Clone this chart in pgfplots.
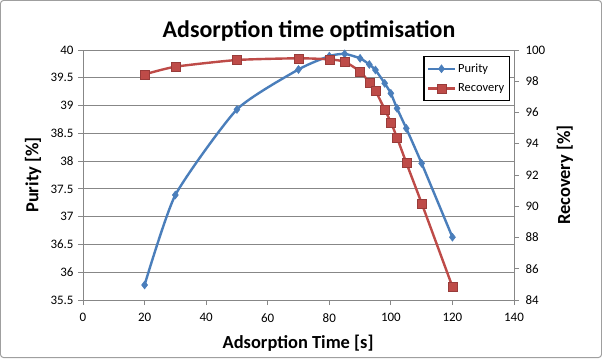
\documentclass[border=0pt]{standalone}
\usepackage{pgfplots}
\pgfplotsset{compat=1.18}
\usepackage{fontspec}
\setmainfont{Carlito}
\definecolor{pblue}{HTML}{4A7EBB}
\definecolor{rred}{HTML}{BE4B48}
\definecolor{gridg}{HTML}{878787}
\pgfplotstableread{
x y
20 35.77
30 37.39
50 38.93
70 39.65
80 39.89
85 39.93
90 39.85
93 39.74
95 39.64
98 39.40
100 39.22
102 38.95
105 38.59
110 37.96
120 36.63
}\purity
\pgfplotstableread{
x y
20 98.44
30 98.93
50 99.36
70 99.47
80 99.40
85 99.25
90 98.62
93 97.93
95 97.38
98 96.20
100 95.37
102 94.39
105 92.79
110 90.19
120 84.85
}\recovery
\begin{document}
\begin{tikzpicture}[x=1bp,y=1bp]
\draw[gridg!80, line width=1bp, rounded corners=3bp, fill=white] (0.5,0.5) rectangle (601.5,357.5);
\node[font=\bfseries\fontsize{24}{28}\selectfont] at (309,327) {Adsorption time optimisation};
\begin{axis}[
  at={(83bp,58bp)}, anchor=south west,
  scale only axis, width=431bp, height=250bp,
  xmin=0, xmax=140, ymin=35.5, ymax=40,
  xtick={0,20,...,140}, ytick={35.5,36,...,40},
  axis x line*=bottom, axis y line*=left,
  axis line style={gridg, line width=0.8bp, -},
  tick style={gridg, line width=0.8bp},
  tick align=outside, major tick length=5bp,
  ymajorgrids, major grid style={gridg, line width=0.8bp},
  tick label style={font=\fontsize{13}{15}\selectfont},
  xticklabel style={yshift=-5bp},
  yticklabel style={xshift=-1bp, /pgf/number format/.cd, fixed, precision=1},
  /pgf/number format/assume math mode=true,
  xlabel={Adsorption Time [s]},
  ylabel={Purity [\%]},
  label style={font=\bfseries\fontsize{18.5}{21}\selectfont},
  xlabel style={at={(axis description cs:0.499,-0.172)}, anchor=center},
  ylabel style={at={(axis description cs:-0.116,0.5)}, anchor=center},
  clip=false,
]
\addplot[pblue, line width=2.4bp, smooth, tension=0.35, mark=diamond*, mark size=4bp, mark options={fill=pblue, line width=0.5bp}] table[x=x,y=y] {\purity};
\end{axis}
\begin{axis}[
  at={(83bp,58bp)}, anchor=south west,
  scale only axis, width=431bp, height=250bp,
  xmin=0, xmax=140, ymin=84, ymax=100,
  ytick={84,86,...,100},
  axis x line=none, axis y line*=right,
  axis line style={gridg, line width=0.8bp, -},
  tick style={gridg, line width=0.8bp},
  tick align=outside, major tick length=5bp,
  tick label style={font=\fontsize{13}{15}\selectfont},
  yticklabel style={xshift=3bp},
  /pgf/number format/assume math mode=true,
  ylabel={Recovery [\%]},
  label style={font=\bfseries\fontsize{18.5}{21}\selectfont},
  ylabel style={at={(axis description cs:1.118,0.5)}, anchor=center, rotate=0},
  legend style={at={(axis description cs:0.789,0.976)}, anchor=north west, draw=black, line width=1.5bp,
    font=\fontsize{12.5}{14}\selectfont, inner xsep=3bp, inner ysep=5bp, row sep=6bp,
    legend cell align=left},
  legend image code/.code={
    \draw[#1, line width=2.4bp] (0cm,0cm) -- (0.95cm,0cm);
    \draw[#1, mark repeat=2, mark phase=2] plot coordinates {(0cm,0cm) (0.475cm,0cm) (0.95cm,0cm)};
  },
  clip=false,
]
\addlegendimage{pblue, mark=diamond*, mark size=4bp, mark options={fill=pblue, line width=0.5bp}}
\addlegendentry{Purity}
\addplot[rred, line width=2.4bp, smooth, tension=0.35, mark=square*, mark size=4.5bp, mark options={fill=rred, draw=rred!80!black, line width=0.5bp}] table[x=x,y=y] {\recovery};
\addlegendentry{Recovery}
\end{axis}
\end{tikzpicture}
\end{document}
